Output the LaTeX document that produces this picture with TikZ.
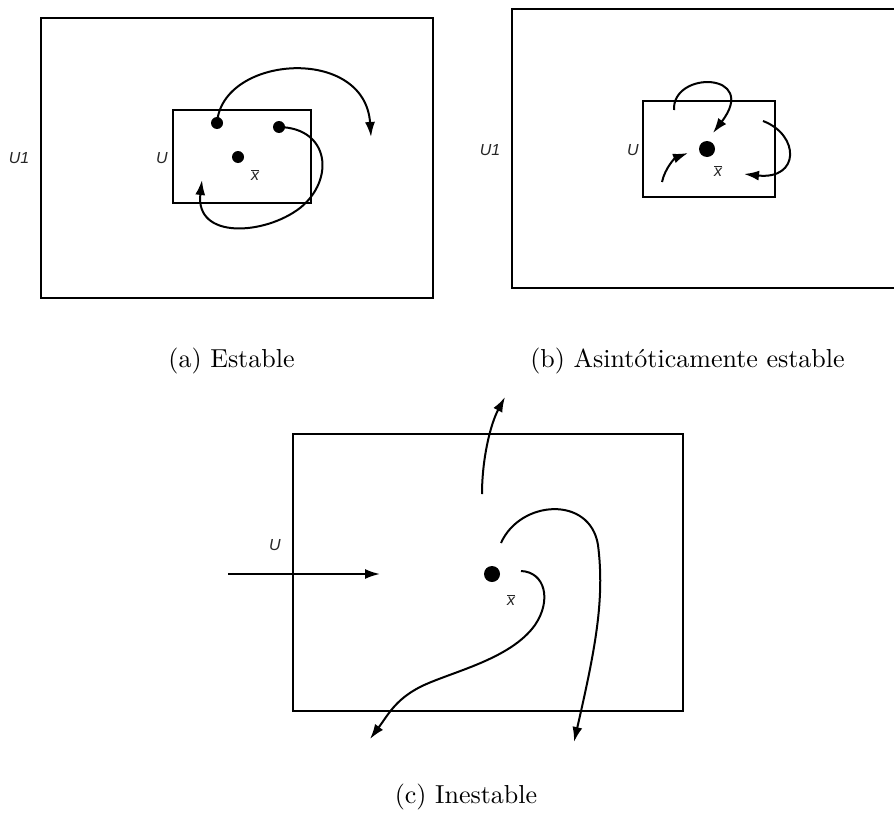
\documentclass[tikz,border=0pt]{standalone}
\usepackage{fontspec}
\newfontfamily\labelfont{Liberation Sans}
\usetikzlibrary{arrows.meta}

\begin{document}
\begin{tikzpicture}[x=1pt, y=-1pt,
    box/.style={draw, line width=2pt},
    traj/.style={line width=2pt, -{Latex[length=15pt, width=10pt]}},
    dot/.style={circle, fill=black, inner sep=0pt},
    lbl/.style={font=\labelfont\itshape\fontsize{16}{18}\selectfont, text=black!85, inner sep=0pt},
    subcap/.style={font=\normalsize, scale=2.6, anchor=base, inner sep=0pt}]
    \useasboundingbox (0,0) rectangle (894,816);
    % (a) Estable
    \draw[box] (41,18) rectangle (433,298);
    \draw[box] (173,110) rectangle (311,203);
    \node[lbl] (a-U1) at (19,158) {U1};
    \node[lbl] (a-U) at (162,158) {U};
    \node[dot, minimum size=12pt] (a-p1) at (217,123) {};
    \node[dot, minimum size=12pt] (a-p2) at (279,127) {};
    \node[dot, minimum size=12pt] (a-eq) at (238,157) {};
    \node[lbl] (a-x) at (255,175) {$\overline{\mbox{\labelfont\itshape x}}$};
    \coordinate (a-e1) at (371,137);
    \coordinate (a-e2) at (202,180);
    \draw[traj] (a-p1.center) .. controls (222,55) and (365,45) .. (a-e1);
    \draw[traj] (a-p2.center) .. controls (330,128) and (335,180) .. (300,208)
        .. controls (265,235) and (195,240) .. (a-e2);
    \node[subcap] (a-cap) at (231.5,367) {(a) Estable};
    % (b) Asintoticamente estable
    \draw[box] (894,9) -- (512,9) -- (512,288) -- (894,288);
    \draw[box] (643,101) rectangle (775,197);
    \node[lbl] (b-U1) at (490,150) {U1};
    \node[lbl] (b-U) at (633,150) {U};
    \node[dot, minimum size=16pt] (b-eq) at (707,149) {};
    \node[lbl] (b-x) at (718,171) {$\overline{\mbox{\labelfont\itshape x}}$};
    \coordinate (b-s1) at (674,110);
    \coordinate (b-e1) at (713,133);
    \coordinate (b-s2) at (662,182);
    \coordinate (b-e2) at (688,153);
    \coordinate (b-s3) at (763,121);
    \coordinate (b-e3) at (744,174);
    \draw[traj] (b-s1) .. controls (672,70) and (760,72) .. (b-e1);
    \draw[traj] (b-s2) .. controls (665,168) and (675,158) .. (b-e2);
    \draw[traj] (b-s3) .. controls (800,135) and (800,180) .. (b-e3);
    \node[subcap] (b-cap) at (687.5,367) {(b) Asint\'oticamente estable};
    % (c) Inestable
    \draw[box, line width=1.6pt] (293,434) rectangle (683,711);
    \node[lbl] (c-U) at (275,545) {U};
    \node[dot, minimum size=16pt] (c-eq) at (492,574) {};
    \node[lbl] (c-x) at (511,600) {$\overline{\mbox{\labelfont\itshape x}}$};
    \coordinate (c-in) at (228,574);
    \coordinate (c-ine) at (380,574);
    \coordinate (c-s1) at (482,494);
    \coordinate (c-e1) at (505,397);
    \coordinate (c-s2) at (501,543);
    \coordinate (c-e2) at (574,742);
    \coordinate (c-s3) at (521,571);
    \coordinate (c-e3) at (370,739);
    \draw[traj] (c-in) -- (c-ine);
    \draw[traj] (c-s1) .. controls (482,460) and (490,425) .. (c-e1);
    \draw[traj] (c-s2) .. controls (520,500) and (590,495) .. (598,545)
        .. controls (605,600) and (595,650) .. (c-e2);
    \draw[traj] (c-s3) .. controls (545,572) and (552,600) .. (535,625)
        .. controls (510,660) and (450,672) .. (420,687)
        .. controls (395,700) and (388,715) .. (c-e3);
    \node[subcap] (c-cap) at (466,803) {(c) Inestable};
\end{tikzpicture}
\end{document}
